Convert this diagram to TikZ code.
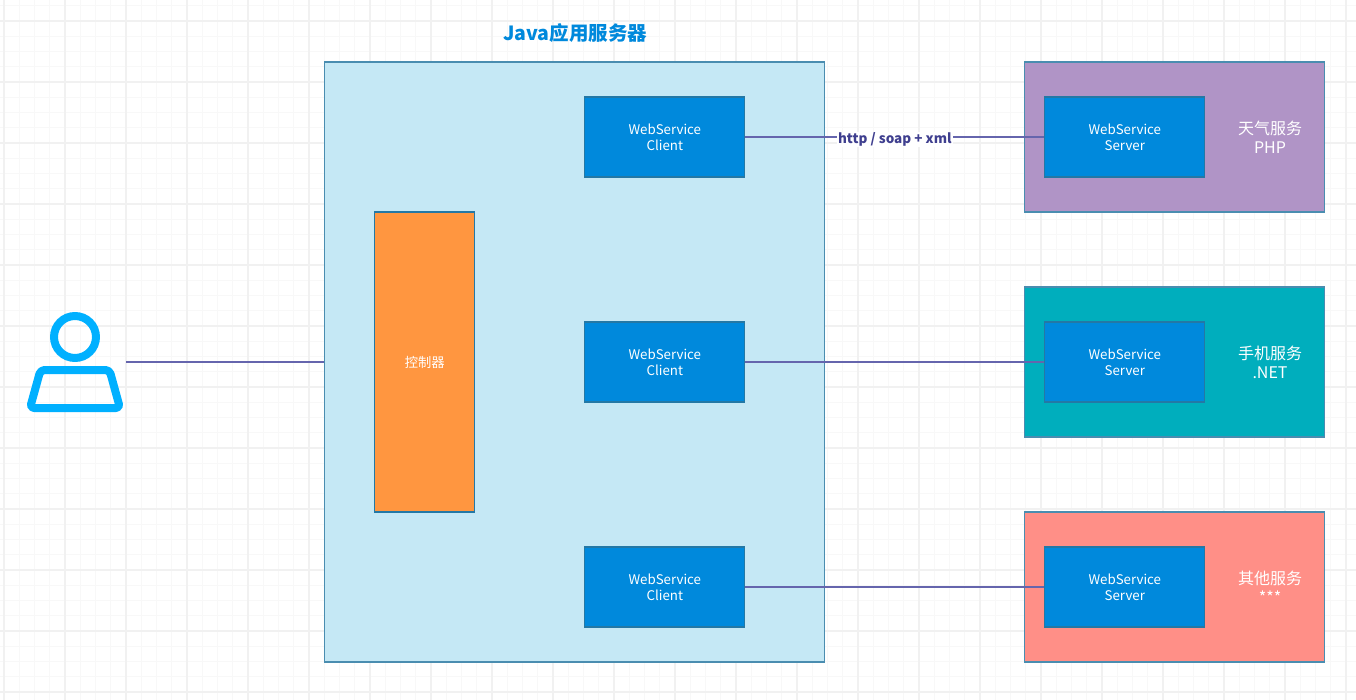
\documentclass[tikz,border=0pt]{standalone}
\usepackage{fontspec}
\setmainfont{Noto Sans CJK SC}
\usetikzlibrary{positioning}
\definecolor{serverblue}{HTML}{C5E8F5}
\definecolor{edgeblue}{HTML}{4A8DB0}
\definecolor{boxedge}{HTML}{2478A5}
\definecolor{boxblue}{HTML}{0089DC}
\definecolor{ctrlorange}{HTML}{FF9640}
\definecolor{weatherpurple}{HTML}{B094C6}
\definecolor{phoneteal}{HTML}{00AEBD}
\definecolor{othersalmon}{HTML}{FF8F87}
\definecolor{iconblue}{HTML}{00B0FF}
\definecolor{linkblue}{HTML}{6565AD}
\definecolor{labelblue}{HTML}{3F3F8F}
\definecolor{gridmajor}{HTML}{F1F1F1}
\definecolor{gridminor}{HTML}{F8F8F8}
\tikzset{
  panel/.style={rectangle, draw=edgeblue, line width=1.3pt, minimum width=#1},
  panel/.default=300pt,
  wsbox/.style={rectangle, draw=boxedge, line width=1.2pt, fill=boxblue, text=white, align=center,
    minimum width=160pt, minimum height=80pt, font=\fontsize{13.3}{16}\selectfont},
  service/.style={panel, minimum height=150pt},
  servicetext/.style={text=white, align=center, font=\fontsize{16}{19}\selectfont},
  link/.style={draw=linkblue, line width=1.4pt},
  iconline/.style={draw=iconblue, line width=8pt, line join=round}
}
\begin{document}
\begin{tikzpicture}[x=1pt, y=-1pt]
\useasboundingbox (0,0) rectangle (1356,700);
\fill[white] (0,0) rectangle (1356,700);

% Background grid
\foreach \i in {0,...,88} \draw[gridminor, line width=1.4pt] ({4+15.25*\i},0) -- ({4+15.25*\i},700);
\foreach \i in {-1,...,45} \draw[gridminor, line width=1.4pt] (0,{21+15.25*\i}) -- (1356,{21+15.25*\i});
\foreach \i in {0,...,22} \draw[gridmajor, line width=1.6pt] ({4+61*\i},0) -- ({4+61*\i},700);
\foreach \i in {0,...,11} \draw[gridmajor, line width=1.6pt] (0,{21+61*\i}) -- (1356,{21+61*\i});

% Application server
\node[panel=500pt, minimum height=600pt, fill=serverblue] (appserver) at (574.8,362) {};
\node[text=boxblue, font=\fontsize{19.5}{22}\selectfont\bfseries] (apptitle) at (575,33) {Java应用服务器};
\node[rectangle, draw=boxedge, line width=1.2pt, fill=ctrlorange, text=white, minimum width=100pt, minimum height=300pt,
  font=\fontsize{13.3}{16}\selectfont] (controller) at (424.8,362) {控制器};

\node[wsbox] (client1) at (664.8,137) {WebService\\Client};
\node[wsbox] (client2) at (664.8,362) {WebService\\Client};
\node[wsbox] (client3) at (664.8,587) {WebService\\Client};

% Remote services
\node[service, fill=weatherpurple] (weather) at (1174.8,137) {};
\node[service, fill=phoneteal] (phone) at (1174.8,362) {};
\node[service, fill=othersalmon] (other) at (1174.8,587) {};

\node[wsbox] (server1) at (1124.8,137) {WebService\\Server};
\node[wsbox] (server2) at (1124.8,362) {WebService\\Server};
\node[wsbox] (server3) at (1124.8,587) {WebService\\Server};

\node[servicetext] (weathertext) at (1270,137) {天气服务\\PHP};
\node[servicetext] (phonetext) at (1270,362) {手机服务\\.NET};
\node[servicetext] (othertext) at (1270,587) {其他服务\\***};

% User icon
\node[minimum width=101pt, minimum height=100pt, inner sep=0pt] (user) at (75.5,362) {};
\draw[iconline] (75,337) circle (21);
\draw[iconline, rounded corners=4pt] (40.5,370) -- (109.5,370) -- (120,408) -- (30,408) -- cycle;

% Connectors
\draw[link] (user) -- (appserver.west);
\draw[link] (client1) -- node[fill=white, inner sep=1pt, yshift=-2.5pt, text=labelblue, font=\fontsize{13.5}{16}\selectfont\bfseries] (protocol) {http / soap + xml} (server1);
\draw[link] (client2) -- (server2);
\draw[link] (client3) -- (server3);
\end{tikzpicture}
\end{document}
